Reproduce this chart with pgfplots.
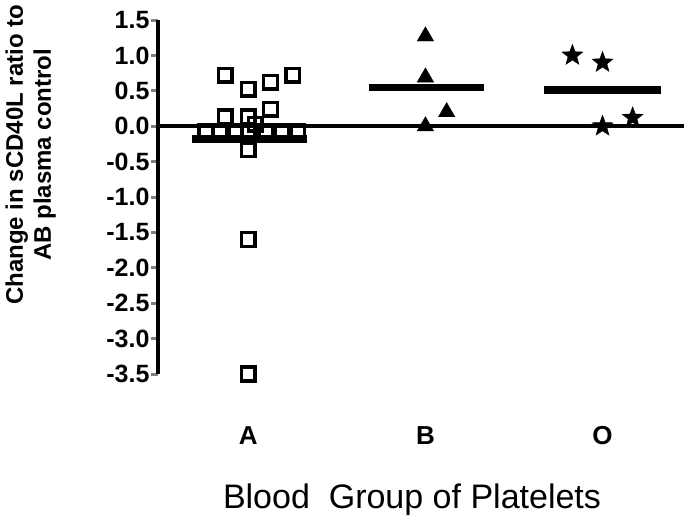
\documentclass[border=0pt]{standalone}
\usepackage{fontspec}
\setmainfont{Liberation Sans}
\usepackage{pgfplots}
\pgfplotsset{compat=1.18}
\pgfdeclareplotmark{fstar}{%
  \pgfpathmoveto{\pgfpointpolar{90}{\pgfplotmarksize}}%
  \pgfpathlineto{\pgfpointpolar{126}{0.42\pgfplotmarksize}}%
  \pgfpathlineto{\pgfpointpolar{162}{\pgfplotmarksize}}%
  \pgfpathlineto{\pgfpointpolar{198}{0.42\pgfplotmarksize}}%
  \pgfpathlineto{\pgfpointpolar{234}{\pgfplotmarksize}}%
  \pgfpathlineto{\pgfpointpolar{270}{0.42\pgfplotmarksize}}%
  \pgfpathlineto{\pgfpointpolar{306}{\pgfplotmarksize}}%
  \pgfpathlineto{\pgfpointpolar{342}{0.42\pgfplotmarksize}}%
  \pgfpathlineto{\pgfpointpolar{18}{\pgfplotmarksize}}%
  \pgfpathlineto{\pgfpointpolar{54}{0.42\pgfplotmarksize}}%
  \pgfpathclose\pgfusepathqfillstroke}
\begin{document}
\begin{tikzpicture}
\useasboundingbox (0,0) rectangle (684pt,517pt);
\begin{axis}[
  at={(158pt,143pt)}, anchor=south west,
  scale only axis, width=526pt, height=354pt,
  xmin=0.49, xmax=3.46, ymin=-3.5, ymax=1.5,
  axis lines=left, axis line style={-, line width=3.5pt},
  x axis line style={draw=none},
  xtick={1,2,3}, xticklabels={A,B,O},
  x tick style={draw=none},
  xticklabel style={font=\bfseries\fontsize{26}{28}\selectfont, yshift=-42pt},
  ytick={-3.5,-3,-2.5,-2,-1.5,-1,-0.5,0,0.5,1,1.5},
  tick align=outside, major tick length=7pt,
  y tick style={line width=3pt},
  yticklabel style={font=\bfseries\fontsize{25}{28}\selectfont, xshift=2pt, /pgf/number format/.cd, fixed, fixed zerofill, precision=1, assume math mode=true},
  ylabel={Change in sCD40L ratio to\\AB plasma control},
  ylabel style={font=\bfseries\fontsize{24}{28}\selectfont, align=center, at={(axis description cs:-0.242,0.619)}, anchor=center},
  xlabel={Blood\ \ Group of Platelets},
  xlabel style={font=\fontsize{34}{38}\selectfont, at={(axis description cs:0.5,0)}, anchor=base, yshift=-134pt, xshift=-9pt},
  clip=false,
]
% zero line
\addplot[black, line width=3.5pt] coordinates {(0.49,0) (3.46,0)};
% group A (open squares)
\addplot[only marks, mark=square, mark size=6.8pt, mark options={line width=3.5pt, fill=white}, black] coordinates {
 (0.87,0.72) (1.0,0.52) (1.125,0.62) (1.25,0.72)
 (0.87,0.13) (1.0,0.13) (1.125,0.24) (1.04,0.03)
 (0.76,-0.08) (0.84,-0.08) (0.93,-0.08) (1.0,-0.08) (1.1,-0.08) (1.19,-0.08) (1.28,-0.08)
 (1.0,-0.33) (1.0,-1.6) (1.0,-3.5)};
% group B (triangles)
\addplot[only marks, mark=triangle*, mark size=9.5pt, black] coordinates {
 (2.0,1.27) (2.0,0.69) (2.12,0.2) (2.0,0.0)};
% group O (stars)
\addplot[only marks, mark=fstar, mark size=11pt, black] coordinates {
 (2.83,1.0) (3.0,0.9) (3.17,0.12) (3.0,0.0)};
% mean bars
\addplot[black, line width=7.5pt] coordinates {(0.68,-0.18) (1.33,-0.18)};
\addplot[black, line width=7.5pt] coordinates {(1.68,0.55) (2.33,0.55)};
\addplot[black, line width=7.5pt] coordinates {(2.67,0.51) (3.33,0.51)};
\end{axis}
\end{tikzpicture}
\end{document}
